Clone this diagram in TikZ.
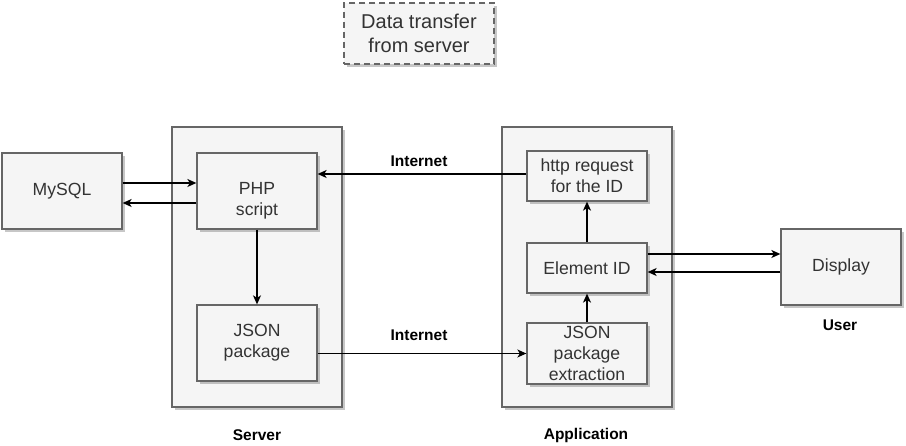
\documentclass[tikz,border=0pt]{standalone}
\usepackage{fontspec}
\setmainfont{Liberation Sans}
\usetikzlibrary{shadows,arrows.meta}
\definecolor{boxfill}{HTML}{F5F5F5}
\definecolor{boxline}{HTML}{666666}
\definecolor{txt}{HTML}{333333}
\tikzset{
  shad/.style={drop shadow={shadow xshift=3pt,shadow yshift=-3pt,fill=black,opacity=0.22}},
  boxtext/.style={text=txt,align=center,font=\fontsize{17.6}{21}\selectfont},
  box/.style={rectangle,draw=boxline,fill=boxfill,line width=1.3pt,inner sep=0pt,
    boxtext,shad},
  cont/.style={rectangle,draw=boxline,fill=boxfill,line width=1.3pt,inner sep=0pt,
    minimum width=170pt,minimum height=280pt,shad},
  titlebox/.style={rectangle,draw=boxline,fill=boxfill,line width=1.6pt,
    dash pattern=on 6pt off 4pt,inner sep=0pt,minimum width=150pt,minimum height=61pt,
    text=txt,align=center,font=\fontsize{20}{24}\selectfont,shad},
  lbl/.style={font=\bfseries\fontsize{15.5}{18}\selectfont,text=black,inner sep=0pt},
  arr/.style={-{Stealth[length=9pt,width=8pt,inset=2.5pt]},line width=1.3pt,black},
}
\begin{document}
\begin{tikzpicture}[x=1pt,y=-1pt]
\useasboundingbox (0,0) rectangle (906,446);
\node[titlebox] (title) at (419,33.5) {Data transfer\\from server};
\node[cont] (server) at (257,267) {};
\node[cont] (app) at (587,267) {};
\node[box,minimum width=120pt,minimum height=76pt] (mysql) at (62,191) {MySQL};
\node[box,minimum width=120pt,minimum height=76pt] (php) at (257,191) {};
\node[boxtext,inner sep=0pt] (phptext) at (257,201) {PHP\\script};
\node[box,minimum width=120pt,minimum height=76pt] (json) at (257,343) {JSON\\package};
\node[box,minimum width=120pt,minimum height=50pt] (http) at (587,176) {http request\\for the ID};
\node[box,minimum width=120pt,minimum height=50pt] (elem) at (587,268) {Element ID};
\node[box,minimum width=120pt,minimum height=61pt] (extr) at (587,353.5) {JSON\\package\\extraction};
\node[box,minimum width=120pt,minimum height=76pt] (disp) at (841,267) {Display};
\node[lbl] (inet1) at (419,161) {Internet};
\node[lbl] (inet2) at (419,335) {Internet};
\node[lbl] (user) at (840,325) {User};
\node[lbl] (serverlbl) at (257,435) {Server};
\node[lbl] (applbl) at (586,435) {Application};
\draw[arr] ([yshift=8pt]mysql.east) -- ([yshift=8pt]mysql.east -| php.west);
\draw[arr] ([yshift=-12pt]php.west) -- ([yshift=-12pt]php.west -| mysql.east);
\draw[arr] (php.south) -- (json.north);
\draw[arr] ([yshift=2pt]http.west) -- ([yshift=2pt]http.west -| php.east);
\draw[arr] (json.east |- extr.west) -- (extr.west);
\draw[arr] (extr.north) -- (elem.south);
\draw[arr] (elem.north) -- (http.south);
\draw[arr] ([yshift=14pt]elem.east) -- ([yshift=14pt]elem.east -| disp.west);
\draw[arr] ([yshift=-5pt]disp.west) -- ([yshift=-5pt]disp.west -| elem.east);
\end{tikzpicture}
\end{document}
